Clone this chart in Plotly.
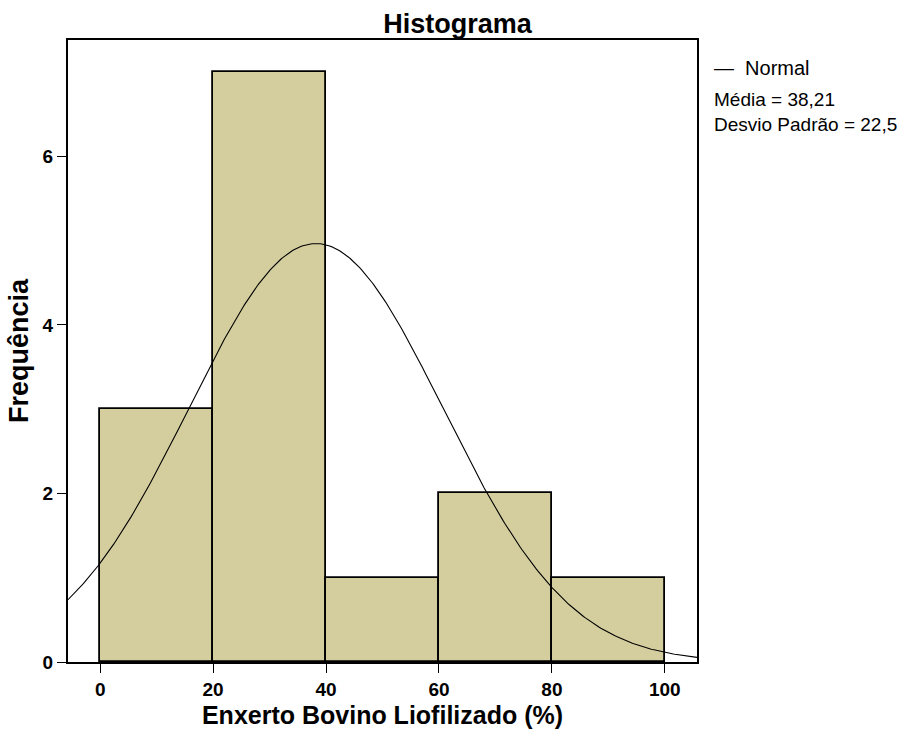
import numpy as np
import plotly.graph_objects as go

# Data
bin_left = [0, 20, 40, 60, 80]
bin_width = 20
counts = [3, 7, 1, 2, 1]
mean_val = 38.21
sd_val = 22.5
x_ticks = [0, 20, 40, 60, 80, 100]
y_ticks = [0, 2, 4, 6]

n_total = sum(counts)
x_range = [-5.7, 105.7]
y_range = [0, 7.38]

mids = [b + bin_width / 2 for b in bin_left]

# Normal curve defined by the displayed mean / SD, scaled to counts
xc = np.linspace(x_range[0], x_range[1], 400)
yc = n_total * bin_width * np.exp(-0.5 * ((xc - mean_val) / sd_val) ** 2) / (sd_val * np.sqrt(2 * np.pi))

FONT = "Liberation Sans, Arial, sans-serif"

fig = go.Figure()
fig.add_trace(go.Bar(
    x=mids, y=counts, width=[bin_width] * len(mids),
    marker=dict(color="rgb(212,206,158)", line=dict(color="black", width=1.8)),
    showlegend=False, hoverinfo="skip"))
fig.add_trace(go.Scatter(
    x=xc, y=yc, mode="lines", line=dict(color="black", width=1.1),
    showlegend=False, hoverinfo="skip"))

fig.update_layout(
    width=915, height=737,
    margin=dict(l=68, r=218, t=40, b=75),
    paper_bgcolor="white", plot_bgcolor="white",
    font=dict(family=FONT, color="black"),
    bargap=0,
    title=dict(text="<b>Histograma</b>", x=0.5, xanchor="center", y=1 - 24 / 737, yanchor="middle",
               font=dict(size=27, color="black", family=FONT)),
    xaxis=dict(range=x_range, tickvals=x_ticks, ticktext=["<b>%d</b>" % t for t in x_ticks],
               showgrid=False, zeroline=False, showline=True, linecolor="black", linewidth=2,
               mirror=True, ticks="outside", ticklen=9, tickcolor="black", tickwidth=1,
               tickfont=dict(size=19, family=FONT, color="black"),
               title=dict(text="<b>Enxerto Bovino Liofilizado (%)</b>", font=dict(size=25, family=FONT), standoff=8)),
    yaxis=dict(range=y_range, tickvals=y_ticks, ticktext=["<b>%d</b>" % t for t in y_ticks],
               showgrid=False, zeroline=False, showline=True, linecolor="black", linewidth=2,
               mirror=True, ticks="outside", ticklen=9, tickcolor="black", tickwidth=1,
               tickfont=dict(size=19, family=FONT, color="black"),
               title=dict(text="<b>Frequência</b>", font=dict(size=27, family=FONT), standoff=6)),
)

fig.add_annotation(xref="paper", yref="paper", x=(712 - 68) / 629, y=(662 - 68) / 622,
                   xanchor="left", yanchor="middle", text="—  Normal", showarrow=False,
                   font=dict(size=20, color="black", family=FONT))
fig.add_annotation(xref="paper", yref="paper", x=(712 - 68) / 629, y=(662 - 112) / 622,
                   xanchor="left", yanchor="middle", align="left",
                   text="Média = 38,21<br>Desvio Padrão = 22,5", showarrow=False,
                   font=dict(size=19, color="black", family=FONT))

fig.write_html("out.html")
